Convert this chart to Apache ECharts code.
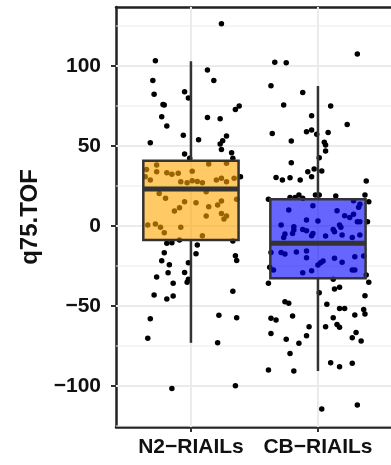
<!DOCTYPE html>
<html>
<head>
<meta charset="utf-8">
<script src="https://cdn.jsdelivr.net/npm/echarts@6/dist/echarts.min.js"></script>
<style>
html,body{margin:0;padding:0;background:#fff;}
#chart{width:391px;height:465px;}
</style>
</head>
<body>
<div id="chart"></div>
<script>
// ---- data ----
const categories = ['N2\u2212RIAILs', 'CB\u2212RIAILs'];
const yTicks = [-100, -50, 0, 50, 100];
const yMinorGrid = [-125, -75, -25, 25, 75, 125];

// box statistics: [low whisker, Q1, median, Q3, high whisker]
const n2Box = [-73, -8.8, 23.1, 40.8, 103];
const cbBox = [-90.6, -32.7, -10.8, 16.7, 87.5];

// jittered points: horizontal jitter offset (category units) and value
const n2Offsets = [0.24,-0.28,0.13,-0.30,0.18,-0.29,-0.05,-0.02,-0.22,-0.21,0.35,0.38,-0.23,0.13,0.23,-0.19,-0.06,-0.32,0.06,0.28,0.25,0.23,0.24,-0.05,0.32,-0.01,0.33,-0.27,-0.35,-0.27,-0.19,-0.15,-0.10,0.01,0.14,0.28,-0.36,-0.32,-0.08,-0.03,0.01,0.05,0.09,0.20,0.24,0.28,0.34,0.39,-0.25,-0.20,0.12,0.36,0.24,0.21,-0.05,-0.09,0.04,0.14,-0.13,0.24,0.28,0.26,0.12,-0.34,-0.28,-0.08,-0.24,-0.21,0.09,-0.09,0.33,-0.19,-0.15,0.05,-0.21,0.04,0.35,0.36,-0.23,-0.02,-0.17,-0.18,-0.05,-0.27,-0.02,-0.03,-0.14,0.33,-0.29,-0.19,-0.14,0.22,0.36,-0.32,-0.34,0.21,-0.15,0.35];
const n2Values = [126.4,103.3,97.5,91.0,91.0,82.3,83.9,80.0,76.0,75.6,72.9,75.0,68.3,67.9,67.1,62.5,56.7,52.1,53.9,56.3,53.3,51.3,47.9,45.0,45.8,42.3,42.3,38.1,35.4,34.0,33.3,32.3,33.0,34.2,38.8,39.2,30.8,28.8,27.7,27.1,28.3,27.9,27.1,28.8,29.8,27.7,29.8,30.8,20.4,17.3,21.4,16.7,15.6,13.1,15.2,11.4,14.6,12.1,9.4,7.9,6.3,4.4,6.3,0.6,1.3,-0.8,-0.8,-4.2,-6.0,-8.8,-9.4,-10.8,-10.4,-11.9,-16.7,-17.3,-18.5,-21.5,-21.7,-22.9,-24.2,-29.2,-29.0,-31.9,-33.3,-35.2,-35.8,-40.8,-43.1,-45.6,-43.8,-55.8,-57.3,-57.9,-70.2,-72.9,-101.5,-99.8];

const cbOffsets = [0.31,-0.34,-0.25,-0.37,-0.12,-0.27,0.10,-0.05,0.23,-0.36,-0.09,-0.05,-0.01,0.08,-0.21,0.05,0.06,0.06,0.01,-0.21,-0.08,-0.03,0.03,-0.33,-0.28,-0.22,-0.14,-0.05,0.38,-0.39,-0.22,-0.18,-0.15,-0.12,-0.02,0.01,0.14,0.37,0.28,0.40,-0.23,-0.04,0.15,0.32,0.33,0.21,0.25,0.28,-0.09,0.00,0.31,0.33,0.39,-0.29,-0.19,0.17,0.18,0.12,-0.12,-0.26,-0.27,-0.20,-0.19,-0.09,-0.04,-0.05,0.06,0.13,0.19,0.27,0.33,-0.37,-0.29,-0.26,-0.17,-0.09,-0.09,0.13,0.19,0.29,0.36,0.02,0.04,0.00,-0.38,-0.35,-0.12,-0.05,0.27,0.29,0.38,-0.39,0.12,0.40,0.13,0.17,0.01,0.37,-0.26,-0.23,0.07,0.17,0.21,0.36,0.37,-0.20,0.12,0.29,-0.37,-0.33,-0.07,0.06,0.15,0.17,-0.37,-0.25,-0.15,-0.09,0.30,0.27,0.34,-0.22,0.10,0.17,0.27,-0.39,-0.19,0.03,0.31];
const cbValues = [107.5,102.3,102.1,87.7,83.5,75.6,75.0,68.9,63.5,57.9,58.9,60.0,57.3,58.5,53.1,52.3,50.6,46.9,42.7,39.6,34.0,35.6,34.4,30.4,28.8,30.2,28.8,30.8,28.1,16.7,17.9,17.9,19.4,17.3,19.4,19.4,18.8,19.4,15.8,15.2,10.0,12.7,9.6,11.7,13.6,6.4,5.4,7.3,3.8,3.1,2.7,2.7,2.7,0.6,-0.4,0.6,-0.8,-2.1,-2.1,-5.0,-7.1,-4.6,-2.5,-2.9,-4.6,-6.0,-6.3,-3.5,-5.6,-7.1,-5.6,-16.5,-16.5,-17.5,-16.3,-15.6,-19.8,-20.2,-22.7,-19.2,-18.8,-22.9,-21.9,-24.4,-25.8,-27.5,-29.2,-27.9,-27.5,-27.5,-30.6,-35.8,-33.3,-35.2,-39.4,-38.3,-41.7,-43.5,-47.3,-48.3,-48.9,-51.5,-51.5,-52.1,-55.0,-56.3,-57.3,-55.6,-57.7,-58.8,-62.9,-62.9,-61.5,-63.3,-67.1,-70.8,-73.3,-68.5,-66.5,-69.8,-71.9,-79.6,-85.4,-87.9,-85.8,-90.0,-90.6,-114.4,-111.9];

// ---- styling ----
const boxColors = ['rgba(255,165,0,0.6)', 'rgba(0,0,255,0.6)'];
const boxWidth = 0.75;
const X_MIN = 0.41, X_MAX = 2.575;
const Y_MIN = -125.6, Y_MAX = 136.9;
const FONT = '"Liberation Sans", Arial, Helvetica, sans-serif';

function pts(cat, offs, vals) {
  return vals.map((v, i) => [cat + offs[i], v]);
}
const gridLines = []
  .concat(yTicks.map(v => ['h', v, 2]))
  .concat(yMinorGrid.map(v => ['h', v, 1]))
  .concat([1, 2].map(v => ['v', v, 2]));

const minus = v => (v < 0 ? '\u2212' + Math.abs(v) : String(v));

const chart = echarts.init(document.getElementById('chart'), null, {renderer: 'canvas'});
chart.setOption({
  animation: false,
  backgroundColor: '#ffffff',
  grid: {left: 116, right: 0, top: 7, bottom: 38, show: false},
  xAxis: [{
    type: 'value', min: X_MIN, max: X_MAX, position: 'bottom',
    splitLine: {show: false},
    axisLine: {show: true, onZero: false, lineStyle: {color: '#222', width: 2.5}},
    axisTick: {show: true, customValues: [1, 2], length: 5, lineStyle: {color: '#333', width: 2}},
    axisLabel: {
      customValues: [1, 2], margin: 10,
      formatter: v => categories[Math.round(v) - 1],
      fontFamily: FONT, fontWeight: 'bold', fontSize: 21, color: '#111'
    }
  }, {
    type: 'value', min: X_MIN, max: X_MAX, position: 'top',
    splitLine: {show: false},
    axisLine: {show: true, onZero: false, lineStyle: {color: '#222', width: 2.5}},
    axisTick: {show: false}, axisLabel: {show: false}
  }],
  yAxis: {
    type: 'value', min: Y_MIN, max: Y_MAX,
    name: 'q75.TOF', nameLocation: 'middle', nameGap: 74, nameRotate: 90,
    nameTextStyle: {fontFamily: FONT, fontWeight: 'bold', fontSize: 24, color: '#111'},
    splitLine: {show: false},
    axisLine: {show: true, onZero: false, lineStyle: {color: '#222', width: 2.5}},
    axisTick: {show: true, customValues: yTicks, length: 5, lineStyle: {color: '#333', width: 2}},
    axisLabel: {
      customValues: yTicks, margin: 15, formatter: minus,
      fontFamily: FONT, fontWeight: 'bold', fontSize: 21, color: '#111'
    }
  },
  series: [{
    type: 'custom', z: 1, silent: true,
    data: gridLines.map(g => [g[0] === 'h' ? 0 : 1, g[1], g[2]]),
    renderItem: (params, api) => {
      const kind = api.value(0), v = api.value(1), w = api.value(2);
      let a, b;
      if (kind === 0) { a = api.coord([X_MIN, v]); b = api.coord([X_MAX, v]); }
      else { a = api.coord([v, Y_MIN]); b = api.coord([v, Y_MAX]); }
      return {type: 'line', shape: {x1: a[0], y1: a[1], x2: b[0], y2: b[1]},
        style: {stroke: '#EBEBEB', lineWidth: w}};
    }
  }, {
    type: 'scatter', z: 2, symbolSize: 5.5,
    itemStyle: {color: '#000', opacity: 1},
    data: pts(1, n2Offsets, n2Values).concat(pts(2, cbOffsets, cbValues))
  }, {
    type: 'custom', z: 3, silent: true,
    data: [[1].concat(n2Box), [2].concat(cbBox)],
    renderItem: (params, api) => {
      const x = api.value(0);
      const lo = api.coord([x, api.value(1)]);
      const q1 = api.coord([x, api.value(2)]);
      const md = api.coord([x, api.value(3)]);
      const q3 = api.coord([x, api.value(4)]);
      const hi = api.coord([x, api.value(5)]);
      const hw = api.size([boxWidth, 0])[0] / 2;
      const stroke = '#333333';
      return {type: 'group', children: [
        {type: 'line', shape: {x1: hi[0], y1: hi[1], x2: q3[0], y2: q3[1]}, style: {stroke, lineWidth: 2.5}},
        {type: 'line', shape: {x1: q1[0], y1: q1[1], x2: lo[0], y2: lo[1]}, style: {stroke, lineWidth: 2.5}},
        {type: 'rect', shape: {x: q3[0] - hw, y: q3[1], width: 2 * hw, height: q1[1] - q3[1]},
          style: {fill: boxColors[params.dataIndex], stroke, lineWidth: 2.5}},
        {type: 'line', shape: {x1: md[0] - hw, y1: md[1], x2: md[0] + hw, y2: md[1]}, style: {stroke, lineWidth: 5}}
      ]};
    }
  }]
});
</script>
</body>
</html>
